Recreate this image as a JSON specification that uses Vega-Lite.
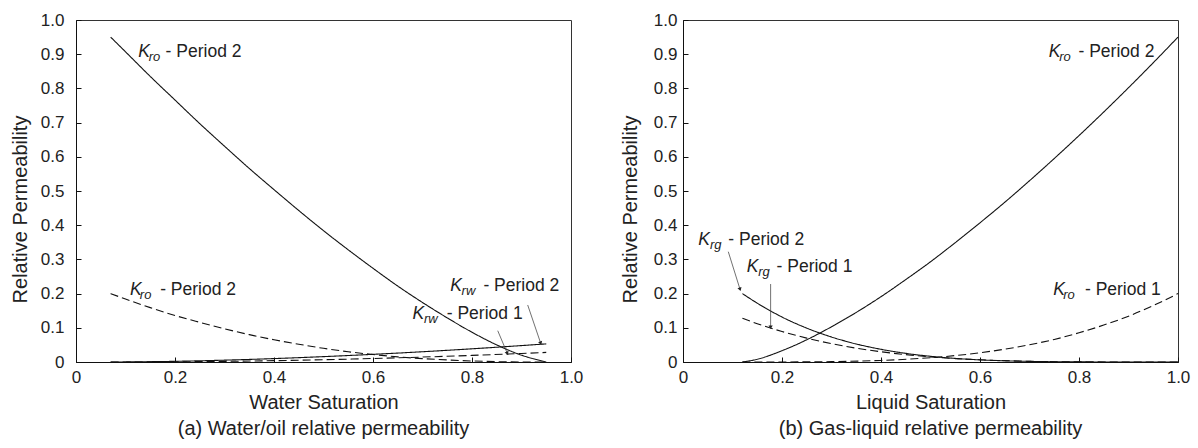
{
  "$schema": "https://vega.github.io/schema/vega-lite/v6.json",
  "autosize": {"type": "none"},
  "padding": {"left": 76, "top": 20, "right": 1122, "bottom": 428},
  "background": "white",
  "spacing": 112,
  "bounds": "flush",
  "datasets": {
    "curves": [
      {"panel": "a", "series": "Kro2", "style": "solid", "x": 0.07, "y": 0.95},
      {"panel": "a", "series": "Kro2", "style": "solid", "x": 0.1, "y": 0.907},
      {"panel": "a", "series": "Kro2", "style": "solid", "x": 0.15, "y": 0.835},
      {"panel": "a", "series": "Kro2", "style": "solid", "x": 0.2, "y": 0.766},
      {"panel": "a", "series": "Kro2", "style": "solid", "x": 0.25, "y": 0.697},
      {"panel": "a", "series": "Kro2", "style": "solid", "x": 0.3, "y": 0.631},
      {"panel": "a", "series": "Kro2", "style": "solid", "x": 0.35, "y": 0.566},
      {"panel": "a", "series": "Kro2", "style": "solid", "x": 0.4, "y": 0.504},
      {"panel": "a", "series": "Kro2", "style": "solid", "x": 0.45, "y": 0.443},
      {"panel": "a", "series": "Kro2", "style": "solid", "x": 0.5, "y": 0.384},
      {"panel": "a", "series": "Kro2", "style": "solid", "x": 0.55, "y": 0.328},
      {"panel": "a", "series": "Kro2", "style": "solid", "x": 0.6, "y": 0.274},
      {"panel": "a", "series": "Kro2", "style": "solid", "x": 0.65, "y": 0.222},
      {"panel": "a", "series": "Kro2", "style": "solid", "x": 0.7, "y": 0.174},
      {"panel": "a", "series": "Kro2", "style": "solid", "x": 0.75, "y": 0.129},
      {"panel": "a", "series": "Kro2", "style": "solid", "x": 0.8, "y": 0.087},
      {"panel": "a", "series": "Kro2", "style": "solid", "x": 0.85, "y": 0.05},
      {"panel": "a", "series": "Kro2", "style": "solid", "x": 0.9, "y": 0.02},
      {"panel": "a", "series": "Kro2", "style": "solid", "x": 0.95, "y": 0},
      {"panel": "a", "series": "Kro1", "style": "dashed", "x": 0.07, "y": 0.2},
      {"panel": "a", "series": "Kro1", "style": "dashed", "x": 0.1, "y": 0.184},
      {"panel": "a", "series": "Kro1", "style": "dashed", "x": 0.15, "y": 0.159},
      {"panel": "a", "series": "Kro1", "style": "dashed", "x": 0.2, "y": 0.136},
      {"panel": "a", "series": "Kro1", "style": "dashed", "x": 0.25, "y": 0.116},
      {"panel": "a", "series": "Kro1", "style": "dashed", "x": 0.3, "y": 0.097},
      {"panel": "a", "series": "Kro1", "style": "dashed", "x": 0.35, "y": 0.08},
      {"panel": "a", "series": "Kro1", "style": "dashed", "x": 0.4, "y": 0.065},
      {"panel": "a", "series": "Kro1", "style": "dashed", "x": 0.45, "y": 0.052},
      {"panel": "a", "series": "Kro1", "style": "dashed", "x": 0.5, "y": 0.04},
      {"panel": "a", "series": "Kro1", "style": "dashed", "x": 0.55, "y": 0.03},
      {"panel": "a", "series": "Kro1", "style": "dashed", "x": 0.6, "y": 0.022},
      {"panel": "a", "series": "Kro1", "style": "dashed", "x": 0.65, "y": 0.015},
      {"panel": "a", "series": "Kro1", "style": "dashed", "x": 0.7, "y": 0.01},
      {"panel": "a", "series": "Kro1", "style": "dashed", "x": 0.75, "y": 0.006},
      {"panel": "a", "series": "Kro1", "style": "dashed", "x": 0.8, "y": 0.003},
      {"panel": "a", "series": "Kro1", "style": "dashed", "x": 0.85, "y": 0.001},
      {"panel": "a", "series": "Kro1", "style": "dashed", "x": 0.9, "y": 0},
      {"panel": "a", "series": "Kro1", "style": "dashed", "x": 0.95, "y": 0},
      {"panel": "a", "series": "Krw2", "style": "solid", "x": 0.07, "y": 0},
      {"panel": "a", "series": "Krw2", "style": "solid", "x": 0.1, "y": 0.0002},
      {"panel": "a", "series": "Krw2", "style": "solid", "x": 0.2, "y": 0.002},
      {"panel": "a", "series": "Krw2", "style": "solid", "x": 0.3, "y": 0.0054},
      {"panel": "a", "series": "Krw2", "style": "solid", "x": 0.4, "y": 0.01},
      {"panel": "a", "series": "Krw2", "style": "solid", "x": 0.5, "y": 0.0157},
      {"panel": "a", "series": "Krw2", "style": "solid", "x": 0.6, "y": 0.0224},
      {"panel": "a", "series": "Krw2", "style": "solid", "x": 0.7, "y": 0.03},
      {"panel": "a", "series": "Krw2", "style": "solid", "x": 0.8, "y": 0.0386},
      {"panel": "a", "series": "Krw2", "style": "solid", "x": 0.9, "y": 0.048},
      {"panel": "a", "series": "Krw2", "style": "solid", "x": 0.95, "y": 0.053},
      {"panel": "a", "series": "Krw1", "style": "dashed", "x": 0.07, "y": 0},
      {"panel": "a", "series": "Krw1", "style": "dashed", "x": 0.2, "y": 0.0006},
      {"panel": "a", "series": "Krw1", "style": "dashed", "x": 0.3, "y": 0.0019},
      {"panel": "a", "series": "Krw1", "style": "dashed", "x": 0.4, "y": 0.0039},
      {"panel": "a", "series": "Krw1", "style": "dashed", "x": 0.5, "y": 0.0067},
      {"panel": "a", "series": "Krw1", "style": "dashed", "x": 0.6, "y": 0.0102},
      {"panel": "a", "series": "Krw1", "style": "dashed", "x": 0.7, "y": 0.0144},
      {"panel": "a", "series": "Krw1", "style": "dashed", "x": 0.8, "y": 0.0193},
      {"panel": "a", "series": "Krw1", "style": "dashed", "x": 0.9, "y": 0.0249},
      {"panel": "a", "series": "Krw1", "style": "dashed", "x": 0.95, "y": 0.028},
      {"panel": "b", "series": "Kro2", "style": "solid", "x": 0.12, "y": 0},
      {"panel": "b", "series": "Kro2", "style": "solid", "x": 0.15, "y": 0.008},
      {"panel": "b", "series": "Kro2", "style": "solid", "x": 0.2, "y": 0.033},
      {"panel": "b", "series": "Kro2", "style": "solid", "x": 0.25, "y": 0.065},
      {"panel": "b", "series": "Kro2", "style": "solid", "x": 0.3, "y": 0.103},
      {"panel": "b", "series": "Kro2", "style": "solid", "x": 0.35, "y": 0.145},
      {"panel": "b", "series": "Kro2", "style": "solid", "x": 0.4, "y": 0.191},
      {"panel": "b", "series": "Kro2", "style": "solid", "x": 0.45, "y": 0.241},
      {"panel": "b", "series": "Kro2", "style": "solid", "x": 0.5, "y": 0.293},
      {"panel": "b", "series": "Kro2", "style": "solid", "x": 0.55, "y": 0.349},
      {"panel": "b", "series": "Kro2", "style": "solid", "x": 0.6, "y": 0.407},
      {"panel": "b", "series": "Kro2", "style": "solid", "x": 0.65, "y": 0.467},
      {"panel": "b", "series": "Kro2", "style": "solid", "x": 0.7, "y": 0.53},
      {"panel": "b", "series": "Kro2", "style": "solid", "x": 0.75, "y": 0.595},
      {"panel": "b", "series": "Kro2", "style": "solid", "x": 0.8, "y": 0.662},
      {"panel": "b", "series": "Kro2", "style": "solid", "x": 0.85, "y": 0.731},
      {"panel": "b", "series": "Kro2", "style": "solid", "x": 0.9, "y": 0.802},
      {"panel": "b", "series": "Kro2", "style": "solid", "x": 0.95, "y": 0.875},
      {"panel": "b", "series": "Kro2", "style": "solid", "x": 1.0, "y": 0.95},
      {"panel": "b", "series": "Kro1", "style": "dashed", "x": 0.12, "y": 0},
      {"panel": "b", "series": "Kro1", "style": "dashed", "x": 0.2, "y": 0.0001},
      {"panel": "b", "series": "Kro1", "style": "dashed", "x": 0.3, "y": 0.0011},
      {"panel": "b", "series": "Kro1", "style": "dashed", "x": 0.4, "y": 0.0046},
      {"panel": "b", "series": "Kro1", "style": "dashed", "x": 0.5, "y": 0.0125},
      {"panel": "b", "series": "Kro1", "style": "dashed", "x": 0.55, "y": 0.0188},
      {"panel": "b", "series": "Kro1", "style": "dashed", "x": 0.6, "y": 0.027},
      {"panel": "b", "series": "Kro1", "style": "dashed", "x": 0.65, "y": 0.0375},
      {"panel": "b", "series": "Kro1", "style": "dashed", "x": 0.7, "y": 0.0505},
      {"panel": "b", "series": "Kro1", "style": "dashed", "x": 0.75, "y": 0.066},
      {"panel": "b", "series": "Kro1", "style": "dashed", "x": 0.8, "y": 0.0854},
      {"panel": "b", "series": "Kro1", "style": "dashed", "x": 0.85, "y": 0.108},
      {"panel": "b", "series": "Kro1", "style": "dashed", "x": 0.9, "y": 0.134},
      {"panel": "b", "series": "Kro1", "style": "dashed", "x": 0.95, "y": 0.165},
      {"panel": "b", "series": "Kro1", "style": "dashed", "x": 1.0, "y": 0.2},
      {"panel": "b", "series": "Krg2", "style": "solid", "x": 0.12, "y": 0.2},
      {"panel": "b", "series": "Krg2", "style": "solid", "x": 0.15, "y": 0.172},
      {"panel": "b", "series": "Krg2", "style": "solid", "x": 0.2, "y": 0.1315},
      {"panel": "b", "series": "Krg2", "style": "solid", "x": 0.25, "y": 0.099},
      {"panel": "b", "series": "Krg2", "style": "solid", "x": 0.3, "y": 0.0731},
      {"panel": "b", "series": "Krg2", "style": "solid", "x": 0.35, "y": 0.0527},
      {"panel": "b", "series": "Krg2", "style": "solid", "x": 0.4, "y": 0.0371},
      {"panel": "b", "series": "Krg2", "style": "solid", "x": 0.45, "y": 0.0253},
      {"panel": "b", "series": "Krg2", "style": "solid", "x": 0.5, "y": 0.0166},
      {"panel": "b", "series": "Krg2", "style": "solid", "x": 0.55, "y": 0.0105},
      {"panel": "b", "series": "Krg2", "style": "solid", "x": 0.6, "y": 0.0062},
      {"panel": "b", "series": "Krg2", "style": "solid", "x": 0.65, "y": 0.0035},
      {"panel": "b", "series": "Krg2", "style": "solid", "x": 0.7, "y": 0.0018},
      {"panel": "b", "series": "Krg2", "style": "solid", "x": 0.8, "y": 0.0003},
      {"panel": "b", "series": "Krg2", "style": "solid", "x": 0.9, "y": 0},
      {"panel": "b", "series": "Krg2", "style": "solid", "x": 1.0, "y": 0},
      {"panel": "b", "series": "Krg1", "style": "dashed", "x": 0.12, "y": 0.128},
      {"panel": "b", "series": "Krg1", "style": "dashed", "x": 0.15, "y": 0.112},
      {"panel": "b", "series": "Krg1", "style": "dashed", "x": 0.2, "y": 0.0891},
      {"panel": "b", "series": "Krg1", "style": "dashed", "x": 0.25, "y": 0.0698},
      {"panel": "b", "series": "Krg1", "style": "dashed", "x": 0.3, "y": 0.0537},
      {"panel": "b", "series": "Krg1", "style": "dashed", "x": 0.35, "y": 0.0405},
      {"panel": "b", "series": "Krg1", "style": "dashed", "x": 0.4, "y": 0.0299},
      {"panel": "b", "series": "Krg1", "style": "dashed", "x": 0.45, "y": 0.0215},
      {"panel": "b", "series": "Krg1", "style": "dashed", "x": 0.5, "y": 0.0149},
      {"panel": "b", "series": "Krg1", "style": "dashed", "x": 0.55, "y": 0.01},
      {"panel": "b", "series": "Krg1", "style": "dashed", "x": 0.6, "y": 0.0064},
      {"panel": "b", "series": "Krg1", "style": "dashed", "x": 0.65, "y": 0.0039},
      {"panel": "b", "series": "Krg1", "style": "dashed", "x": 0.7, "y": 0.0021},
      {"panel": "b", "series": "Krg1", "style": "dashed", "x": 0.8, "y": 0.0005},
      {"panel": "b", "series": "Krg1", "style": "dashed", "x": 0.9, "y": 0.0001},
      {"panel": "b", "series": "Krg1", "style": "dashed", "x": 1.0, "y": 0}
    ],
    "labels": [
      {"panel": "a", "k": "K", "sub": "ro", "rest": "- Period 2", "xk": 0.126, "xs": 0.147, "xr": 0.181, "y": 0.893},
      {"panel": "a", "k": "K", "sub": "ro", "rest": "- Period 2", "xk": 0.109, "xs": 0.129, "xr": 0.17, "y": 0.196},
      {"panel": "a", "k": "K", "sub": "rw", "rest": "- Period 2", "xk": 0.756, "xs": 0.779, "xr": 0.823, "y": 0.2085},
      {"panel": "a", "k": "K", "sub": "rw", "rest": "- Period 1", "xk": 0.68, "xs": 0.703, "xr": 0.749, "y": 0.125},
      {"panel": "b", "k": "K", "sub": "ro", "rest": "- Period 2", "xk": 0.739, "xs": 0.76, "xr": 0.799, "y": 0.893},
      {"panel": "b", "k": "K", "sub": "ro", "rest": "- Period 1", "xk": 0.748, "xs": 0.768, "xr": 0.812, "y": 0.196},
      {"panel": "b", "k": "K", "sub": "rg", "rest": "- Period 2", "xk": 0.031, "xs": 0.0545, "xr": 0.0915, "y": 0.342},
      {"panel": "b", "k": "K", "sub": "rg", "rest": "- Period 1", "xk": 0.1287, "xs": 0.152, "xr": 0.189, "y": 0.262}
    ],
    "arrows": [
      {"panel": "a", "id": "a1", "x": 0.9125, "y": 0.1667, "x2": 0.9388, "y2": 0.0547},
      {"panel": "a", "id": "a2", "x": 0.852, "y": 0.0915, "x2": 0.8713, "y2": 0.0254},
      {"panel": "b", "id": "b1", "x": 0.0915, "y": 0.3225, "x2": 0.1152, "y2": 0.2126},
      {"panel": "b", "id": "b2", "x": 0.177, "y": 0.228, "x2": 0.177, "y2": 0.1015}
    ]
  },
  "hconcat": [
    {
      "width": 495,
      "height": 342,
      "title": {"text": "(a) Water/oil relative permeability", "orient": "bottom", "offset": 7},
      "layer": [
        {
          "data": {"name": "curves"},
          "transform": [{"filter": "datum.panel == 'a'"}],
          "mark": {"type": "line", "color": "#111", "strokeWidth": 1.1, "interpolate": "monotone"},
          "encoding": {
            "x": {"field": "x", "type": "quantitative", "scale": {"domain": [0, 1]}, "title": "Water Saturation",
                  "axis": {"tickCount": 5, "labelExpr": "datum.value == 0 ? '0' : format(datum.value, '.1f')", "labelPadding": 12, "titlePadding": 7}},
            "y": {"field": "y", "type": "quantitative", "scale": {"domain": [0, 1]}, "title": "Relative Permeability",
                  "axis": {"tickCount": 10, "labelExpr": "datum.value == 0 ? '0' : format(datum.value, '.1f')", "labelPadding": 17, "titleY": 189, "titlePadding": 10}},
            "detail": {"field": "series"},
            "strokeDash": {"field": "style", "type": "nominal", "scale": {"domain": ["solid", "dashed"], "range": [[1, 0], [8, 4]]}, "legend": null}
          }
        },
        {
          "data": {"name": "arrows"},
          "transform": [{"filter": "datum.panel == 'a'"}],
          "mark": {"type": "rule", "color": "#333", "strokeWidth": 0.7},
          "encoding": {
            "x": {"field": "x", "type": "quantitative", "title": "Water Saturation"},
            "y": {"field": "y", "type": "quantitative", "title": "Relative Permeability"},
            "x2": {"field": "x2"},
            "y2": {"field": "y2"}
          }
        },
        {
          "data": {"name": "arrows"},
          "transform": [{"filter": "datum.id == 'a1'"}],
          "mark": {"type": "point", "shape": "triangle-down", "filled": true, "size": 18, "angle": 341, "color": "#222", "opacity": 1},
          "encoding": {
            "x": {"field": "x2", "type": "quantitative", "title": "Water Saturation"},
            "y": {"field": "y2", "type": "quantitative", "title": "Relative Permeability"}
          }
        },
        {
          "data": {"name": "arrows"},
          "transform": [{"filter": "datum.id == 'a2'"}],
          "mark": {"type": "point", "shape": "triangle-down", "filled": true, "size": 18, "angle": 337, "color": "#222", "opacity": 1},
          "encoding": {
            "x": {"field": "x2", "type": "quantitative", "title": "Water Saturation"},
            "y": {"field": "y2", "type": "quantitative", "title": "Relative Permeability"}
          }
        },
        {
          "data": {"name": "labels"},
          "transform": [{"filter": "datum.panel == 'a'"}],
          "mark": {"type": "text", "font": "Liberation Sans", "fontSize": 17.5, "fontStyle": "italic", "align": "left", "baseline": "alphabetic", "color": "#222"},
          "encoding": {
            "x": {"field": "xk", "type": "quantitative", "title": "Water Saturation"},
            "y": {"field": "y", "type": "quantitative", "title": "Relative Permeability"},
            "text": {"field": "k"}
          }
        },
        {
          "data": {"name": "labels"},
          "transform": [{"filter": "datum.panel == 'a'"}],
          "mark": {"type": "text", "font": "Liberation Sans", "fontSize": 13, "fontStyle": "italic", "align": "left", "baseline": "alphabetic", "dy": 4, "color": "#222"},
          "encoding": {
            "x": {"field": "xs", "type": "quantitative", "title": "Water Saturation"},
            "y": {"field": "y", "type": "quantitative", "title": "Relative Permeability"},
            "text": {"field": "sub"}
          }
        },
        {
          "data": {"name": "labels"},
          "transform": [{"filter": "datum.panel == 'a'"}],
          "mark": {"type": "text", "font": "Liberation Sans", "fontSize": 17.5, "align": "left", "baseline": "alphabetic", "color": "#222"},
          "encoding": {
            "x": {"field": "xr", "type": "quantitative", "title": "Water Saturation"},
            "y": {"field": "y", "type": "quantitative", "title": "Relative Permeability"},
            "text": {"field": "rest"}
          }
        }
      ]
    },
    {
      "width": 495,
      "height": 342,
      "title": {"text": "(b) Gas-liquid relative permeability", "orient": "bottom", "offset": 7},
      "layer": [
        {
          "data": {"name": "curves"},
          "transform": [{"filter": "datum.panel == 'b'"}],
          "mark": {"type": "line", "color": "#111", "strokeWidth": 1.1, "interpolate": "monotone"},
          "encoding": {
            "x": {"field": "x", "type": "quantitative", "scale": {"domain": [0, 1]}, "title": "Liquid Saturation",
                  "axis": {"tickCount": 5, "labelExpr": "datum.value == 0 ? '0' : format(datum.value, '.1f')", "labelPadding": 12, "titlePadding": 7}},
            "y": {"field": "y", "type": "quantitative", "scale": {"domain": [0, 1]}, "title": "Relative Permeability",
                  "axis": {"tickCount": 10, "labelExpr": "datum.value == 0 ? '0' : format(datum.value, '.1f')", "labelPadding": 11, "titleY": 189, "titlePadding": 13}},
            "detail": {"field": "series"},
            "strokeDash": {"field": "style", "type": "nominal", "scale": {"domain": ["solid", "dashed"], "range": [[1, 0], [8, 4]]}, "legend": null}
          }
        },
        {
          "data": {"name": "arrows"},
          "transform": [{"filter": "datum.panel == 'b'"}],
          "mark": {"type": "rule", "color": "#333", "strokeWidth": 0.7},
          "encoding": {
            "x": {"field": "x", "type": "quantitative", "title": "Liquid Saturation"},
            "y": {"field": "y", "type": "quantitative", "title": "Relative Permeability"},
            "x2": {"field": "x2"},
            "y2": {"field": "y2"}
          }
        },
        {
          "data": {"name": "arrows"},
          "transform": [{"filter": "datum.id == 'b1'"}],
          "mark": {"type": "point", "shape": "triangle-down", "filled": true, "size": 18, "angle": 343, "color": "#222", "opacity": 1},
          "encoding": {
            "x": {"field": "x2", "type": "quantitative", "title": "Liquid Saturation"},
            "y": {"field": "y2", "type": "quantitative", "title": "Relative Permeability"}
          }
        },
        {
          "data": {"name": "arrows"},
          "transform": [{"filter": "datum.id == 'b2'"}],
          "mark": {"type": "point", "shape": "triangle-down", "filled": true, "size": 18, "angle": 0, "color": "#222", "opacity": 1},
          "encoding": {
            "x": {"field": "x2", "type": "quantitative", "title": "Liquid Saturation"},
            "y": {"field": "y2", "type": "quantitative", "title": "Relative Permeability"}
          }
        },
        {
          "data": {"name": "labels"},
          "transform": [{"filter": "datum.panel == 'b'"}],
          "mark": {"type": "text", "font": "Liberation Sans", "fontSize": 17.5, "fontStyle": "italic", "align": "left", "baseline": "alphabetic", "color": "#222"},
          "encoding": {
            "x": {"field": "xk", "type": "quantitative", "title": "Liquid Saturation"},
            "y": {"field": "y", "type": "quantitative", "title": "Relative Permeability"},
            "text": {"field": "k"}
          }
        },
        {
          "data": {"name": "labels"},
          "transform": [{"filter": "datum.panel == 'b'"}],
          "mark": {"type": "text", "font": "Liberation Sans", "fontSize": 13, "fontStyle": "italic", "align": "left", "baseline": "alphabetic", "dy": 4, "color": "#222"},
          "encoding": {
            "x": {"field": "xs", "type": "quantitative", "title": "Liquid Saturation"},
            "y": {"field": "y", "type": "quantitative", "title": "Relative Permeability"},
            "text": {"field": "sub"}
          }
        },
        {
          "data": {"name": "labels"},
          "transform": [{"filter": "datum.panel == 'b'"}],
          "mark": {"type": "text", "font": "Liberation Sans", "fontSize": 17.5, "align": "left", "baseline": "alphabetic", "color": "#222"},
          "encoding": {
            "x": {"field": "xr", "type": "quantitative", "title": "Liquid Saturation"},
            "y": {"field": "y", "type": "quantitative", "title": "Relative Permeability"},
            "text": {"field": "rest"}
          }
        }
      ]
    }
  ],
  "config": {
    "view": {"stroke": "#333", "strokeWidth": 1},
    "axis": {
      "grid": false,
      "domainColor": "#111",
      "tickColor": "#111",
      "tickSize": -5,
      "labelFlush": false,
      "labelOverlap": false,
      "labelFont": "Liberation Sans",
      "labelFontSize": 17,
      "labelColor": "#222",
      "titleFont": "Liberation Sans",
      "titleFontSize": 20,
      "titleFontWeight": "normal",
      "titleColor": "#222",
      "titlePadding": 4
    },
    "axisX": {"tickCount": 5},
    "axisY": {"tickCount": 10},
    "title": {"font": "Liberation Sans", "fontSize": 20, "fontWeight": "normal", "color": "#222", "anchor": "middle"}
  }
}
